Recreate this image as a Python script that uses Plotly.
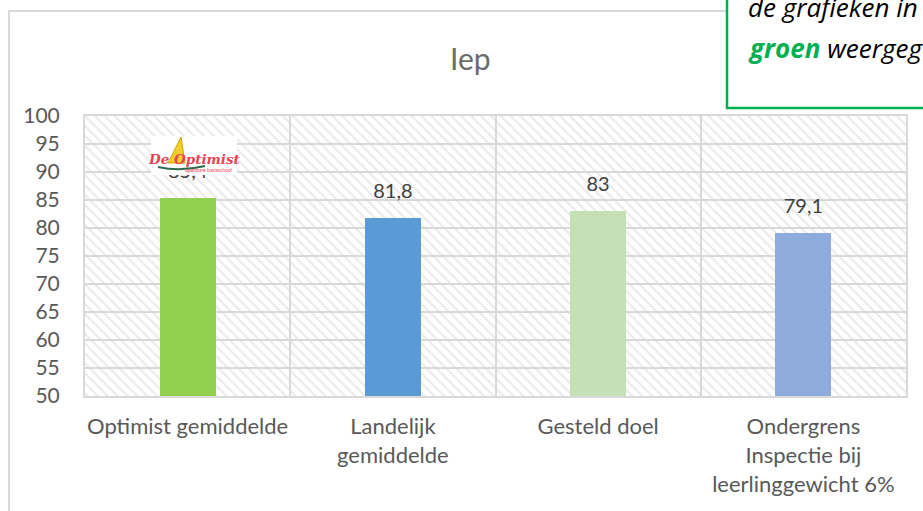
import plotly.graph_objects as go

# ---- data ----
categories = ["Optimist gemiddelde", "Landelijk<br>gemiddelde", "Gesteld doel",
              "Ondergrens<br>Inspectie bij<br>leerlinggewicht 6%"]
values = [85.4, 81.8, 83, 79.1]
bar_colors = ["#92d050", "#5b9bd5", "#c5e0b4", "#8faadc"]
y_ticks = [50, 55, 60, 65, 70, 75, 80, 85, 90, 95, 100]
title_text = "Iep"

YMIN, YMAX = y_ticks[0], y_ticks[-1]
W, H = 923, 511
L, T = 85, 116
R = W - 906
B = H - 396
PW, PH = W - L - R, H - T - B

def px(x):  # page pixel -> paper
    return (x - L) / PW

def py(y):
    return (H - B - y) / PH

xs = list(range(len(categories)))
labels = [("%g" % v).replace(".", ",") for v in values]
grid = "#d9d9d9"
font_main = "Lato"

fig = go.Figure()

# hatched plot background
fig.add_trace(go.Bar(
    x=xs, y=[YMAX - YMIN] * len(xs), base=[YMIN] * len(xs), width=1,
    marker=dict(color="rgba(0,0,0,0)", line=dict(width=0),
                pattern=dict(shape="\\", fgcolor="#d6d6d6", bgcolor="rgba(0,0,0,0)",
                             size=7, solidity=0.3)),
    hoverinfo="skip", showlegend=False))

# bars
fig.add_trace(go.Bar(
    x=xs, y=[v - YMIN for v in values], base=[YMIN] * len(xs), width=0.273,
    marker=dict(color=bar_colors, line=dict(width=0)),
    showlegend=False))

# data labels
fig.add_trace(go.Scatter(
    x=xs, y=values, mode="markers+text", text=labels, textposition="top center",
    marker=dict(size=22, opacity=0), textfont=dict(family=font_main, size=20, color="#404040"),
    hoverinfo="skip", showlegend=False, cliponaxis=False))

shapes = [
    # outer chart frame
    dict(type="rect", xref="paper", yref="paper", x0=px(9), x1=px(1200), y0=py(800), y1=py(11),
         line=dict(color="#d9d9d9", width=2), fillcolor="rgba(0,0,0,0)", layer="below"),
    # green note box
    dict(type="rect", xref="paper", yref="paper", x0=px(727), x1=px(1200), y0=py(108), y1=py(-200),
         line=dict(color="#00b050", width=2.5), fillcolor="white", layer="above"),
    # logo background
    dict(type="rect", xref="paper", yref="paper", x0=px(151), x1=px(237), y0=py(175), y1=py(136),
         line=dict(width=0), fillcolor="white", layer="above"),
    # logo sail
    dict(type="path", xref="paper", yref="paper",
         path=f"M {px(181)},{py(137)} L {px(168)},{py(163)} L {px(185)},{py(163)} Z",
         line=dict(color="#c9a800", width=1), fillcolor="#f2cf2e", layer="above"),
    # logo wave
    dict(type="path", xref="paper", yref="paper",
         path=f"M {px(158)},{py(167)} Q {px(180)},{py(172)} {px(205)},{py(166)}",
         line=dict(color="#2e6b4f", width=2), layer="above"),
]

annotations = [
    dict(text=title_text, xref="paper", yref="paper", x=px(470), y=py(58),
         showarrow=False, font=dict(family=font_main, size=30, color="#6b6b6b"),
         xanchor="center", yanchor="middle"),
    dict(text="<i>de grafieken in</i>", xref="paper", yref="paper", x=px(746), y=py(7),
         showarrow=False, font=dict(family="Open Sans", size=26, color="#000000"),
         xanchor="left", yanchor="middle"),
    dict(text="<i><b><span style='color:#00b050'>groen</span></b> weergegeven</i>",
         xref="paper", yref="paper", x=px(746), y=py(48),
         showarrow=False, font=dict(family="Open Sans", size=26, color="#000000"),
         xanchor="left", yanchor="middle"),
    dict(text="<b><i>De Optimist</i></b>", xref="paper", yref="paper", x=px(194), y=py(159),
         showarrow=False, font=dict(family="DejaVu Serif", size=13.5, color="#e8434f"),
         xanchor="center", yanchor="middle"),
    dict(text="openbare basisschool", xref="paper", yref="paper", x=px(234), y=py(170),
         showarrow=False, font=dict(family=font_main, size=5, color="#e8434f"),
         xanchor="right", yanchor="middle"),
]

fig.update_layout(
    width=W, height=H,
    margin=dict(l=L, r=R, t=T, b=B),
    paper_bgcolor="white", plot_bgcolor="white",
    barmode="overlay", bargap=0,
    shapes=shapes, annotations=annotations,
    xaxis=dict(range=[-0.5, len(xs) - 0.5], tickvals=xs, ticktext=categories,
               showgrid=False, zeroline=False, ticks="",
               tickfont=dict(family=font_main, size=22, color="#595959"),
               ticklabelstandoff=10,
               showline=True, linecolor=grid, linewidth=2, mirror=True,
               minor=dict(tickvals=[i + 0.5 for i in xs[:-1]], showgrid=True,
                          gridcolor=grid, gridwidth=2, ticks=""),
               fixedrange=True),
    yaxis=dict(range=[YMIN, YMAX], tickvals=y_ticks, ticktext=[str(t) for t in y_ticks],
               showgrid=True, gridcolor=grid, gridwidth=2, zeroline=False, ticks="",
               tickfont=dict(family=font_main, size=21, color="#595959"),
               ticklabelstandoff=19,
               showline=True, linecolor=grid, linewidth=2, mirror=True,
               fixedrange=True),
)

fig.write_html("out.html", config={"displayModeBar": False},
               post_script="document.body.style.margin='0';document.body.style.overflow='hidden';")
